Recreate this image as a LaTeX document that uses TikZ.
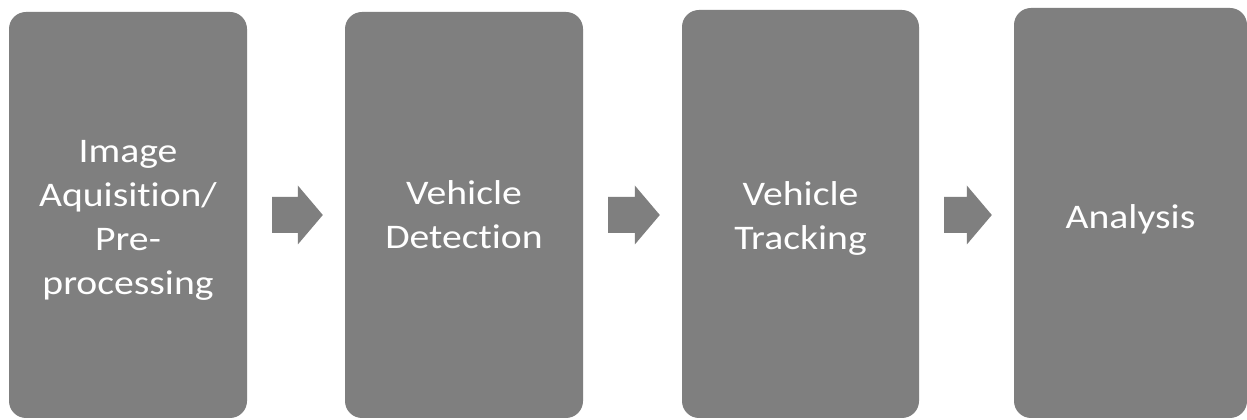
\documentclass[tikz,border=0pt]{standalone}
\usepackage{fontspec}
\setmainfont{Carlito}[FakeStretch=1.15, Ligatures=NoCommon, RawFeature=-liga]
\usetikzlibrary{calc}
\definecolor{boxgray}{RGB}{127,127,127}
\tikzset{
  stagebox/.style={fill=boxgray, draw=none, rounded corners=17pt, text=white,
    align=center, inner sep=0pt, font=\fontsize{34.5}{44}\selectfont},
  arrowfill/.style={fill=boxgray, draw=none}
}
\newcommand\flowarrow[2]{%
  \fill[arrowfill] let \p1=(#1.east), \p2=(#2.west) in
    (\x1+25pt,205pt+18pt) -- (\x2-47pt,205pt+18pt) -- (\x2-47pt,205pt+29.5pt)
    -- (\x2-22pt,205pt) -- (\x2-47pt,205pt-29.5pt) -- (\x2-47pt,205pt-18pt)
    -- (\x1+25pt,205pt-18pt) -- cycle;}
\begin{document}
\begin{tikzpicture}[x=1pt,y=1pt]
\useasboundingbox[fill=white] (0,0) rectangle (1247,420);
\node[stagebox, minimum width=238pt, minimum height=406pt] (b1) at (128,205) {};
\node[stagebox, minimum width=238pt, minimum height=406pt] (b2) at (464,205) {};
\node[stagebox, minimum width=237pt, minimum height=408pt] (b3) at (800.5,206) {};
\node[stagebox, minimum width=233pt, minimum height=410pt] (b4) at (1130.5,207) {};
\node[stagebox, fill=none] (t1) at (128,200) {Image\\Aquisition/\\Pre-\\processing};
\node[stagebox, fill=none] (t2) at (464,205) {Vehicle\\Detection};
\node[stagebox, fill=none] (t3) at (800.5,202) {Vehicle\\Tracking};
\node[stagebox, fill=none] (t4) at (1130.5,201) {Analysis};
\flowarrow{b1}{b2}
\flowarrow{b2}{b3}
\flowarrow{b3}{b4}
\end{tikzpicture}
\end{document}
